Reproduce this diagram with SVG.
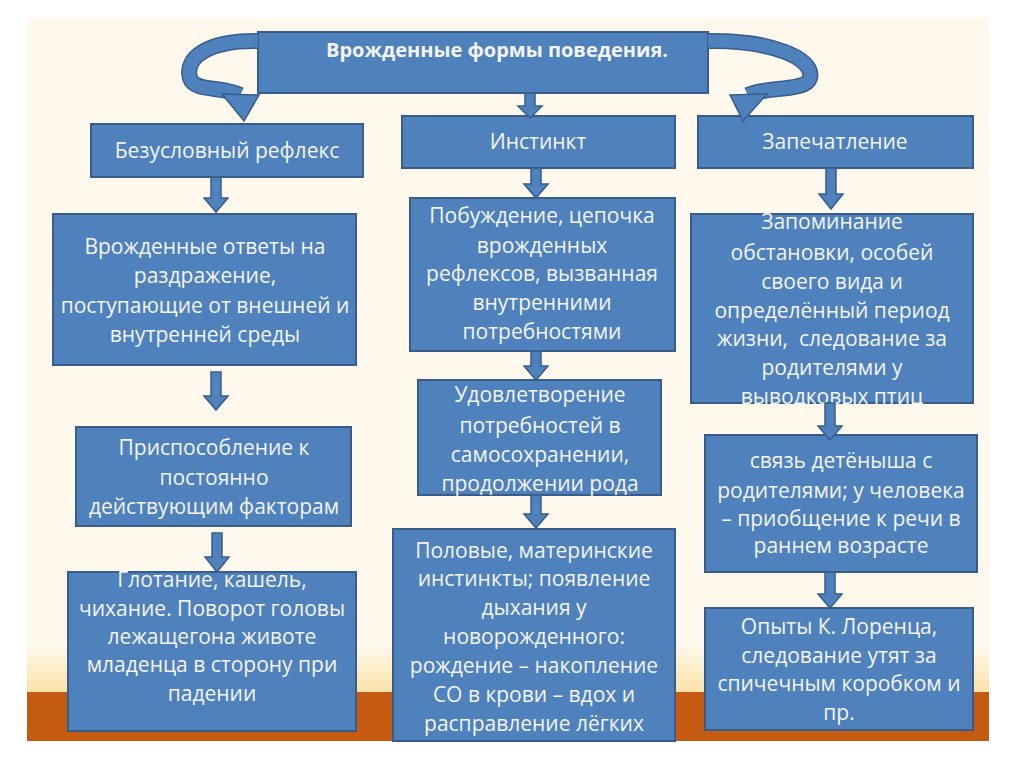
<svg xmlns="http://www.w3.org/2000/svg" width="1024" height="767" viewBox="0 0 1024 767">
<defs>
<style>
.box{fill:#4F81BD;stroke:#385D8A;stroke-width:2}
.t{font-family:"Open Sans","Liberation Sans",sans-serif;font-size:21px;fill:#F4F4F4;text-anchor:middle}
.ttl{font-family:"Open Sans","Liberation Sans",sans-serif;font-size:20px;font-weight:700;fill:#F4F4F4;text-anchor:middle}
.arr{fill:#4F81BD;stroke:#385D8A;stroke-width:1.5}
</style>
<linearGradient id="band" x1="0" y1="0" x2="0" y2="1">
<stop offset="0" stop-color="#FEF9EC"/>
<stop offset="1" stop-color="#FBE2A8"/>
</linearGradient>
</defs>
<rect width="1024" height="767" fill="#FFFFFF"/>
<rect x="27" y="18" width="962" height="723" fill="#FEF9EC"/>
<rect x="27" y="645" width="962" height="47" fill="url(#band)"/>
<rect x="27" y="692" width="962" height="49" fill="#C55A11"/>

<g id="title">
<rect class="box" x="258" y="32" width="450" height="61"/>
<text class="ttl" x="497" y="57">Врожденные формы поведения.</text>
</g>
<g id="h1"><rect class="box" x="91" y="124" width="272" height="53"/><text class="t" x="227" y="158">Безусловный рефлекс</text></g>
<g id="h2"><rect class="box" x="402" y="116" width="273" height="52"/><text class="t" x="538" y="149">Инстинкт</text></g>
<g id="h3"><rect class="box" x="698" y="116" width="275" height="52"/><text class="t" x="835" y="149">Запечатление</text></g>

<g id="l1"><rect class="box" x="53" y="214" width="303" height="151"/>
<text class="t" x="205" y="254">Врожденные ответы на</text>
<text class="t" x="205" y="283">раздражение,</text>
<text class="t" x="205" y="313">поступающие от внешней и</text>
<text class="t" x="205" y="342">внутренней среды</text></g>
<g id="l2"><rect class="box" x="76" y="427" width="275" height="99"/>
<text class="t" x="214" y="455">Приспособление к</text>
<text class="t" x="214" y="485">постоянно</text>
<text class="t" x="214" y="514">действующим факторам</text></g>
<g id="l3"><rect class="box" x="68" y="572" width="288" height="159"/>
<text class="t" x="212" y="587">Глотание, кашель,</text>
<text class="t" x="212" y="616">чихание. Поворот головы</text>
<text class="t" x="212" y="644">лежащегона животе</text>
<text class="t" x="212" y="672">младенца в сторону при</text>
<text class="t" x="212" y="701">падении</text></g>

<g id="m1"><rect class="box" x="410" y="198" width="265" height="153"/>
<text class="t" x="542" y="223">Побуждение, цепочка</text>
<text class="t" x="542" y="253">врожденных</text>
<text class="t" x="542" y="281">рефлексов, вызванная</text>
<text class="t" x="542" y="310">внутренними</text>
<text class="t" x="542" y="339">потребностями</text></g>
<g id="m2"><rect class="box" x="418" y="380" width="243" height="115"/>
<text class="t" x="540" y="402">Удовлетворение</text>
<text class="t" x="540" y="433">потребностей в</text>
<text class="t" x="540" y="462">самосохранении,</text>
<text class="t" x="540" y="491">продолжении рода</text></g>
<g id="m3"><rect class="box" x="393" y="529" width="282" height="212"/>
<text class="t" x="534" y="558">Половые, материнские</text>
<text class="t" x="534" y="586">инстинкты; появление</text>
<text class="t" x="534" y="615">дыхания у</text>
<text class="t" x="534" y="644">новорожденного:</text>
<text class="t" x="534" y="673">рождение – накопление</text>
<text class="t" x="534" y="702">СО в крови – вдох и</text>
<text class="t" x="534" y="731">расправление лёгких</text></g>

<g id="r1"><rect class="box" x="691" y="214" width="282" height="189"/>
<text class="t" x="832" y="229">Запоминание</text>
<text class="t" x="832" y="260">обстановки, особей</text>
<text class="t" x="832" y="289">своего вида и</text>
<text class="t" x="832" y="318">определённый период</text>
<text class="t" x="832" y="346" xml:space="preserve">жизни,  следование за</text>
<text class="t" x="832" y="375">родителями у</text>
<text class="t" x="832" y="404">выводковых птиц</text></g>
<g id="r2"><rect class="box" x="705" y="435" width="272" height="137"/>
<text class="t" x="841" y="468">связь детёныша с</text>
<text class="t" x="841" y="498">родителями; у человека</text>
<text class="t" x="841" y="526">– приобщение к речи в</text>
<text class="t" x="841" y="553">раннем возрасте</text></g>
<g id="r3"><rect class="box" x="705" y="608" width="268" height="122"/>
<text class="t" x="839" y="634">Опыты К. Лоренца,</text>
<text class="t" x="839" y="663">следование утят за</text>
<text class="t" x="839" y="691">спичечным коробком и</text>
<text class="t" x="839" y="720">пр.</text></g>

<g id="connectors">
<path d="M258,41 C208,40 184,58 190,78 C194,92 222,86 240,95" fill="none" stroke="#385D8A" stroke-width="16"/>
<path d="M258,41 C208,40 184,58 190,78 C194,92 222,86 240,95" fill="none" stroke="#4F81BD" stroke-width="13"/>
<polygon class="arr" points="222,94 259,95 244,121"/>
<path d="M708,41 C770,40 815,58 810,78 C806,92 766,86 748,95" fill="none" stroke="#385D8A" stroke-width="16"/>
<path d="M708,41 C770,40 815,58 810,78 C806,92 766,86 748,95" fill="none" stroke="#4F81BD" stroke-width="13"/>
<polygon class="arr" points="767,94 730,95 743,121"/>

<polygon class="arr" points="525,93 535,93 535,106 542,106 530,118 518,106 525,106"/>
<polygon class="arr" points="211,177 221,177 221,198 228,198 216,212 204,198 211,198"/>
<polygon class="arr" points="211,372 221,372 221,396 228,396 216,410 204,396 211,396"/>
<polygon class="arr" points="212,533 222,533 222,557 229,557 217,572 205,557 212,557"/>
<polygon class="arr" points="531,168 541,168 541,184 548,184 536,198 524,184 531,184"/>
<polygon class="arr" points="531,351 541,351 541,366 548,366 536,380 524,366 531,366"/>
<polygon class="arr" points="531,495 541,495 541,514 548,514 536,528 524,514 531,514"/>
<polygon class="arr" points="826,168 836,168 836,194 843,194 831,209 819,194 826,194"/>
<polygon class="arr" points="825,403 835,403 835,426 842,426 830,440 818,426 825,426"/>
<polygon class="arr" points="825,572 835,572 835,594 842,594 830,608 818,594 825,594"/>
</g>
</svg>
